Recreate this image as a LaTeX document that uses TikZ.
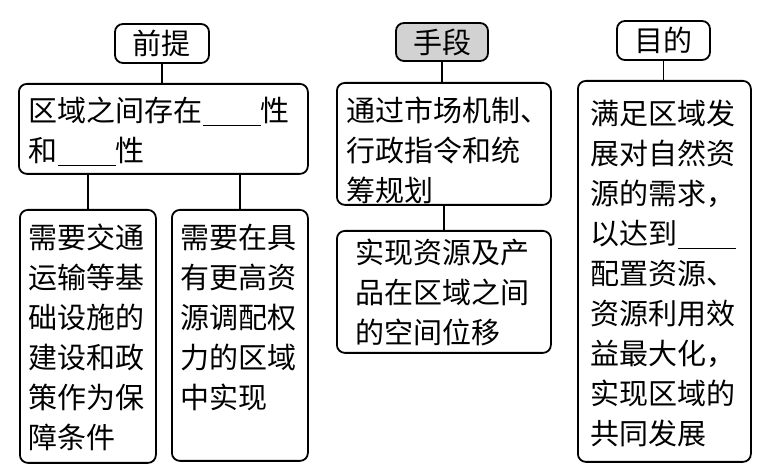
\documentclass[tikz,border=0pt]{standalone}
\usepackage{fontspec}
\newfontfamily\cjk{Noto Sans CJK SC}
\usepackage{tikz}
\usetikzlibrary{positioning, calc}

\newcommand{\tiankong}{\rule[-2pt]{29pt}{0.6pt}}

\tikzset{
  zi/.style={font=\cjk\fontsize{14.5pt}{20pt}\selectfont},
  biaoti/.style={zi, draw, rounded corners=4pt, line width=0.9pt, inner sep=0pt},
  kuang/.style={zi, draw, rounded corners=4pt, line width=0.9pt, anchor=north west, align=left, inner ysep=0pt},
  lianxian/.style={line width=0.9pt}
}

\begin{document}
\begin{tikzpicture}[x=0.5pt, y=-0.5pt]
        \useasboundingbox (0,0) rectangle (773,476);
        % titles
        \node[biaoti, minimum width=47pt, minimum height=19.5pt] (qianti) at (162,43.5) {前提};
        \node[biaoti, minimum width=46pt, minimum height=19pt, fill=gray!35] (shouduan) at (442,42) {手段};
        \node[biaoti, minimum width=46.5pt, minimum height=19.5pt] (mudi) at (663.5,40.5) {目的};
        % boxes
        \node[kuang, text width=134.5pt, inner xsep=5pt, text height=19pt, text depth=26pt] (qt) at (18,83)
          {区域之间存在\tiankong 性\\和\tiankong 性};
        \node[kuang, text width=59pt, inner xsep=4.5pt, text height=19.5pt, text depth=107pt] (qta) at (19,209)
          {需要交通\\运输等基\\础设施的\\建设和政\\策作为保\\障条件};
        \node[kuang, text width=59pt, inner xsep=4.5pt, text height=19.5pt, text depth=106pt] (qtb) at (171,209)
          {需要在具\\有更高资\\源调配权\\力的区域\\中实现};
        \node[kuang, text width=97pt, inner xsep=5pt, text height=19.5pt, text depth=41.5pt] (sd1) at (336,82)
          {通过市场机制、\\行政指令和统\\筹规划};
        \node[kuang, text width=88pt, inner xsep=9.5pt, text height=16.5pt, text depth=44.5pt] (sd2) at (336,230)
          {实现资源及产\\品在区域之间\\的空间位移};
        \node[kuang, text width=73.5pt, inner xsep=6.5pt, text height=22pt, text depth=168.5pt] (md) at (577,80)
          {满足区域发\\展对自然资\\源的需求，\\以达到\tiankong\\配置资源、\\资源利用效\\益最大化，\\实现区域的\\共同发展};
        % connectors
        \draw[lianxian] (qianti) -- (qianti |- qt.north);
        \draw[lianxian] (qta.north) -- (qta.north |- qt.south);
        \draw[lianxian] (qtb.north) -- (qtb.north |- qt.south);
        \draw[lianxian] (shouduan) -- (shouduan |- sd1.north);
        \draw[lianxian] (sd1.south) -- (sd1.south |- sd2.north);
        \draw[lianxian] (mudi) -- (mudi |- md.north);
\end{tikzpicture}
\end{document}
